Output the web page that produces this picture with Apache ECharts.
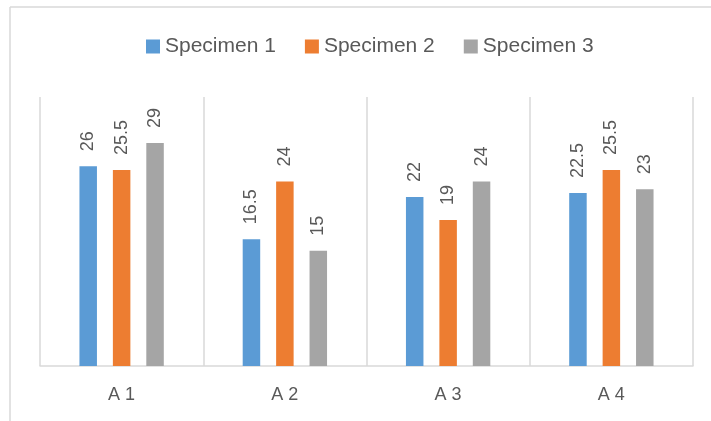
<!DOCTYPE html>
<html>
<head>
<meta charset="utf-8">
<script src="https://cdn.jsdelivr.net/npm/echarts@6/dist/echarts.min.js"></script>
<style>
  html, body { margin: 0; padding: 0; background: #fff; }
  #chart { width: 711px; height: 421px; }
</style>
</head>
<body>
<div id="chart"></div>
<script>
// Categories and measured values per specimen
const categories = ['A 1', 'A 2', 'A 3', 'A 4'];
const seriesNames = ['Specimen 1', 'Specimen 2', 'Specimen 3'];
const specimen1 = [26, 16.5, 22, 22.5];
const specimen2 = [25.5, 24, 19, 25.5];
const specimen3 = [29, 15, 24, 23];

const colors = ['#5B9BD5', '#ED7D31', '#A5A5A5'];
const textColor = '#595959';
const lineColor = '#D9D9D9';
const font = '"Liberation Sans", Arial, sans-serif';

const chart = echarts.init(document.getElementById('chart'), null, { renderer: 'canvas' });

function barSeries(name, data, i) {
  return {
    name: name,
    type: 'bar',
    data: data,
    barWidth: 17.5,
    barGap: '91%',
    itemStyle: { color: colors[i] },
    label: {
      show: true,
      position: 'top',
      rotate: 90,
      align: 'left',
      verticalAlign: 'middle',
      distance: 15,
      color: textColor,
      fontSize: 18,
      fontFamily: font
    }
  };
}

chart.setOption({
  animation: false,
  color: colors,
  textStyle: { fontFamily: font },
  legend: {
    top: 36,
    left: 146,
    padding: 0,
    itemWidth: 14,
    itemHeight: 14,
    itemGap: 29,
    icon: 'rect',
    textStyle: { fontSize: 21, color: textColor, fontFamily: font },
    data: seriesNames
  },
  grid: { left: 40, right: 18, top: 97, bottom: 55, containLabel: false },
  xAxis: {
    type: 'category',
    data: categories,
    boundaryGap: true,
    axisLine: { show: true, lineStyle: { color: lineColor, width: 1.5 } },
    axisTick: { show: false },
    axisLabel: { color: textColor, fontSize: 18, fontFamily: font, margin: 20 },
    splitLine: { show: true, lineStyle: { color: lineColor, width: 1.5 } }
  },
  yAxis: {
    type: 'value',
    min: 0,
    max: 35,
    show: false,
    splitLine: { show: false }
  },
  // Chart-area frame (top and left edges)
  graphic: [
    { type: 'line', shape: { x1: 10, y1: 7, x2: 711, y2: 7 }, style: { stroke: lineColor, lineWidth: 1.5 } },
    { type: 'line', shape: { x1: 10, y1: 7, x2: 10, y2: 421 }, style: { stroke: lineColor, lineWidth: 1.5 } }
  ],
  series: [
    barSeries(seriesNames[0], specimen1, 0),
    barSeries(seriesNames[1], specimen2, 1),
    barSeries(seriesNames[2], specimen3, 2)
  ]
});
</script>
</body>
</html>
